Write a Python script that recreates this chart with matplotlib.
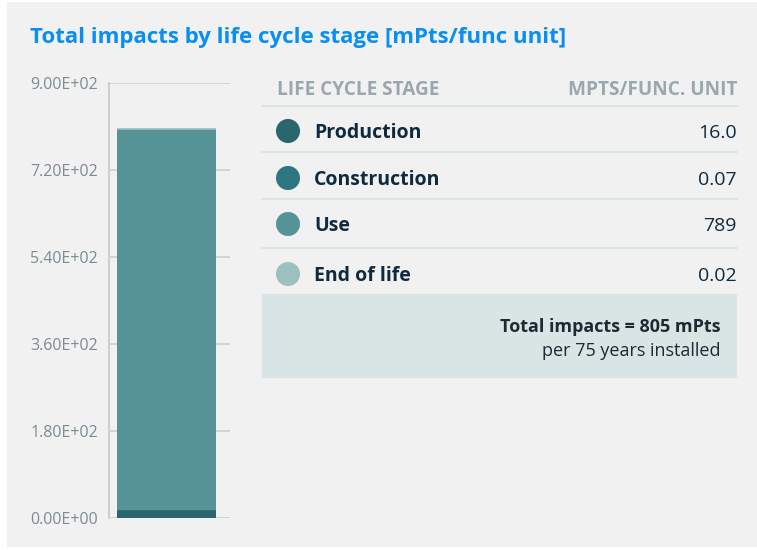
import matplotlib.pyplot as plt
from matplotlib.patches import Rectangle

plt.rcParams['font.family'] = ['Open Sans', 'DejaVu Sans']

stages = ["Production", "Construction", "Use", "End of life"]
values = [16.0, 0.07, 789, 0.02]
value_labels = ["16.0", "0.07", "789", "0.02"]
colors = ["#2b666e", "#2e7680", "#569396", "#9cbfc0"]
yticks = [0, 180, 360, 540, 720, 900]
ytick_labels = ["0.00E+00", "1.80E+02", "3.60E+02", "5.40E+02", "7.20E+02", "9.00E+02"]
title = "Total impacts by life cycle stage [mPts/func unit]"
total_text = "Total impacts = 805 mPts"
period_text = "per 75 years installed"

W, H = 757, 550
fig = plt.figure(figsize=(W / 100, H / 100), dpi=100)
fig.patch.set_facecolor("white")

# full-figure overlay in pixel coordinates
bg = fig.add_axes([0, 0, 1, 1])
bg.set_xlim(0, W)
bg.set_ylim(H, 0)
bg.axis("off")
bg.add_patch(Rectangle((7, 2), W - 7, 545, facecolor="#f1f1f1", edgecolor="none"))

bg.text(30, 38, title, fontsize=16, fontweight="bold", color="#0a8ef0",
        va="center", ha="left")

# stacked bar
ax = fig.add_axes([109 / W, (H - 518) / H, 121 / W, 435 / H])
ax.set_facecolor("none")
bottom = 0
for v, c in zip(values, colors):
    ax.bar(0.475, v, width=0.818, bottom=bottom, color=c, edgecolor=c,
           linewidth=1.2 if v < 1 else 0, zorder=3)
    bottom += v
ax.set_xlim(0, 1)
ax.set_ylim(0, 900)
ax.set_yticks(yticks)
ax.set_yticklabels(ytick_labels, fontsize=11.5, color="#7d8b92")
ax.set_xticks([])
ax.tick_params(axis="y", length=0, pad=8)
ax.grid(axis="y", color="#cfcfcf", linewidth=1.2, zorder=0)
for s in ["top", "right", "bottom"]:
    ax.spines[s].set_visible(False)
ax.spines["left"].set_color("#cfcfcf")
ax.spines["left"].set_linewidth(1.5)

# table
x0, x1 = 262, 737
bg.text(277, 90, "LIFE CYCLE STAGE", fontsize=13.7, fontweight="bold",
        color="#9aa8ae", va="center", ha="left")
bg.text(x1, 90, "MPTS/FUNC. UNIT", fontsize=13.7, fontweight="bold",
        color="#9aa8ae", va="center", ha="right")
line_y = [106, 152, 199, 248]
row_y = [131, 178, 224, 274]
for ly in line_y:
    bg.plot([x0, x1], [ly, ly], color="#d5e2e2", linewidth=1.2)
bg.scatter([288] * len(stages), row_y, s=300, c=colors, edgecolors="none")
for y, name, lab in zip(row_y, stages, value_labels):
    bg.text(314, y + 2, name, fontsize=14, fontweight="bold", color="#0f2a3f",
            va="center", ha="left")
    bg.text(x1, y + 2, lab, fontsize=14, color="#0f2a3f", va="center", ha="right")

bg.add_patch(Rectangle((x0, 294), x1 - x0, 84, facecolor="#d9e5e5", edgecolor="none"))
bg.text(720, 327, total_text, fontsize=13, fontweight="bold", color="#1d2a33",
        va="center", ha="right")
bg.text(720, 351, period_text, fontsize=13, color="#1d2a33",
        va="center", ha="right")

fig.savefig("out.png", dpi=100, facecolor=fig.get_facecolor())
